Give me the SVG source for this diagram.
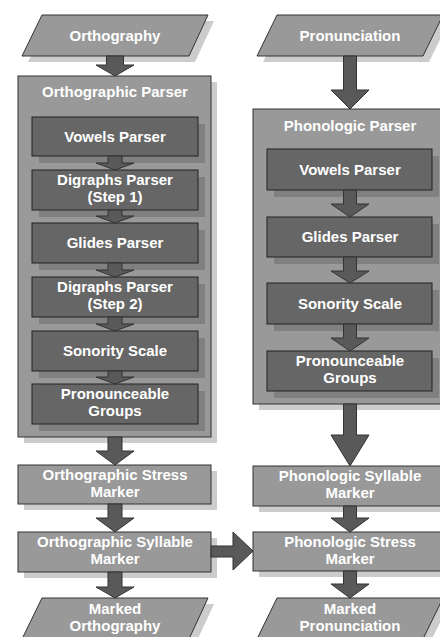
<svg xmlns="http://www.w3.org/2000/svg" width="440" height="637" viewBox="0 0 440 637">
<style>
.bg{fill:#ffffff}
.sh{fill:#cccccc}
.ish{fill:#808080}
.outer{fill:#999999;stroke:#333333;stroke-width:1}
.inner{fill:#666666;stroke:#222222;stroke-width:1}
.arr{fill:#595959;stroke:#333333;stroke-width:1;stroke-linejoin:miter}
text{font-family:"Liberation Sans",Arial,sans-serif;font-weight:bold;font-size:15px;fill:#ffffff;text-anchor:middle}
</style>
<rect class="bg" x="0" y="0" width="440" height="637"/>

<g id="orthography">
<polygon class="sh" points="48,21 214,21 195,62 28,62"/>
<polygon class="outer" points="42,15 208,15 189,56 22,56"/>
<text x="115" y="41">Orthography</text>
</g>

<g id="pronunciation">
<polygon class="sh" points="283,21 449,21 429,62 263,62"/>
<polygon class="outer" points="277,15 443,15 423,56 257,56"/>
<text x="350" y="41">Pronunciation</text>
</g>

<g id="orthographic-parser">
<rect class="sh" x="24" y="82" width="193" height="361"/>
<rect class="outer" x="18" y="76" width="193" height="361"/>
<text x="115" y="97">Orthographic Parser</text>
</g>

<g id="phonologic-parser">
<rect class="sh" x="259" y="115" width="193" height="295"/>
<rect class="outer" x="253" y="109" width="193" height="295"/>
<text x="350" y="131">Phonologic Parser</text>
</g>

<g id="o-vowels">
<rect class="ish" x="39" y="124" width="166" height="39"/>
<rect class="inner" x="32" y="117" width="166" height="39"/>
<text x="115" y="142">Vowels Parser</text>
</g>
<g id="o-digraphs1">
<rect class="ish" x="39" y="177" width="166" height="40"/>
<rect class="inner" x="32" y="170" width="166" height="40"/>
<text x="115" y="185">Digraphs Parser</text>
<text x="115" y="202">(Step 1)</text>
</g>
<g id="o-glides">
<rect class="ish" x="39" y="230" width="166" height="40"/>
<rect class="inner" x="32" y="223" width="166" height="40"/>
<text x="115" y="248">Glides Parser</text>
</g>
<g id="o-digraphs2">
<rect class="ish" x="39" y="284" width="166" height="40"/>
<rect class="inner" x="32" y="277" width="166" height="40"/>
<text x="115" y="292">Digraphs Parser</text>
<text x="115" y="309">(Step 2)</text>
</g>
<g id="o-sonority">
<rect class="ish" x="39" y="338" width="166" height="40"/>
<rect class="inner" x="32" y="331" width="166" height="40"/>
<text x="115" y="356">Sonority Scale</text>
</g>
<g id="o-groups">
<rect class="ish" x="39" y="391" width="166" height="40"/>
<rect class="inner" x="32" y="384" width="166" height="40"/>
<text x="115" y="399">Pronounceable</text>
<text x="115" y="416">Groups</text>
</g>

<g id="p-vowels">
<rect class="ish" x="274" y="156" width="165" height="41"/>
<rect class="inner" x="267" y="149" width="165" height="41"/>
<text x="350" y="175">Vowels Parser</text>
</g>
<g id="p-glides">
<rect class="ish" x="274" y="224" width="165" height="40"/>
<rect class="inner" x="267" y="217" width="165" height="40"/>
<text x="350" y="242">Glides Parser</text>
</g>
<g id="p-sonority">
<rect class="ish" x="274" y="290" width="165" height="41"/>
<rect class="inner" x="267" y="283" width="165" height="41"/>
<text x="350" y="309">Sonority Scale</text>
</g>
<g id="p-groups">
<rect class="ish" x="274" y="358" width="165" height="40"/>
<rect class="inner" x="267" y="351" width="165" height="40"/>
<text x="350" y="366">Pronounceable</text>
<text x="350" y="383">Groups</text>
</g>

<g id="orth-stress">
<rect class="sh" x="24" y="471" width="193" height="39"/>
<rect class="outer" x="18" y="465" width="193" height="39"/>
<text x="115" y="480">Orthographic Stress</text>
<text x="115" y="497">Marker</text>
</g>
<g id="orth-syllable">
<rect class="sh" x="24" y="538" width="193" height="40"/>
<rect class="outer" x="18" y="532" width="193" height="40"/>
<text x="115" y="547">Orthographic Syllable</text>
<text x="115" y="564">Marker</text>
</g>
<g id="phon-syllable">
<rect class="sh" x="259" y="472" width="193" height="40"/>
<rect class="outer" x="253" y="466" width="193" height="40"/>
<text x="350" y="481">Phonologic Syllable</text>
<text x="350" y="498">Marker</text>
</g>
<g id="phon-stress">
<rect class="sh" x="259" y="538" width="193" height="39"/>
<rect class="outer" x="253" y="532" width="193" height="39"/>
<text x="350" y="547">Phonologic Stress</text>
<text x="350" y="564">Marker</text>
</g>

<g id="marked-orthography">
<polygon class="sh" points="48,604 214,604 195,645 28,645"/>
<polygon class="outer" points="42,598 208,598 189,639 22,639"/>
<text x="115" y="614">Marked</text>
<text x="115" y="631">Orthography</text>
</g>
<g id="marked-pronunciation">
<polygon class="sh" points="283,604 449,604 429,645 263,645"/>
<polygon class="outer" points="277,598 443,598 423,639 257,639"/>
<text x="350" y="614">Marked</text>
<text x="350" y="631">Pronunciation</text>
</g>

<g id="connectors">
<polygon class="arr" points="106.5,56 123.5,56 123.5,65 134,65 115,76 96,65 106.5,65"/>
<polygon class="arr" points="108,156 122,156 122,163 134,163 115,170 96,163 108,163"/>
<polygon class="arr" points="108,210 122,210 122,216 134,216 115,223 96,216 108,216"/>
<polygon class="arr" points="108,263 122,263 122,270 134,270 115,277 96,270 108,270"/>
<polygon class="arr" points="108,317 122,317 122,324 134,324 115,331 96,324 108,324"/>
<polygon class="arr" points="108,371 122,371 122,377 134,377 115,384 96,377 108,377"/>
<polygon class="arr" points="108,437 122,437 122,451 134,451 115,465 96,451 108,451"/>
<polygon class="arr" points="108,504 122,504 122,518 134,518 115,532 96,518 108,518"/>
<polygon class="arr" points="108,572 122,572 122,587 134,587 115,598 96,587 108,587"/>

<polygon class="arr" points="343.5,56 356.5,56 356.5,90 369,90 350,109 331,90 343.5,90"/>
<polygon class="arr" points="343.5,190 356.5,190 356.5,204 369,204 350,217 331,204 343.5,204"/>
<polygon class="arr" points="343.5,257 356.5,257 356.5,271 369,271 350,283 331,271 343.5,271"/>
<polygon class="arr" points="343.5,324 356.5,324 356.5,338 369,338 350,351 331,338 343.5,338"/>
<polygon class="arr" points="343.5,404 356.5,404 356.5,435 369,435 350,466 331,435 343.5,435"/>
<polygon class="arr" points="343.5,506 356.5,506 356.5,518 369,518 350,532 331,518 343.5,518"/>
<polygon class="arr" points="343.5,571 356.5,571 356.5,584 369,584 350,598 331,584 343.5,584"/>

<polygon class="arr" points="211,546 233,546 233,532 253,551 233,570 233,557 211,557"/>
</g>
</svg>
